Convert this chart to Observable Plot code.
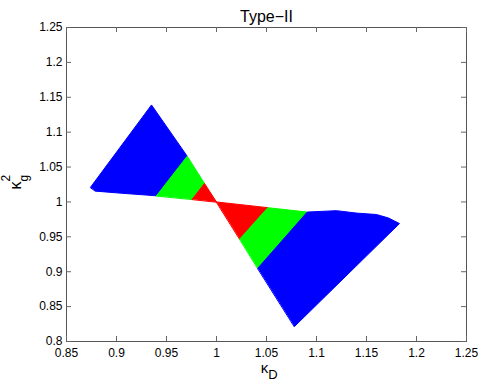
<!DOCTYPE html>
<html><head><meta charset="utf-8">
<script src="https://cdn.jsdelivr.net/npm/d3@7"></script>
<script src="https://cdn.jsdelivr.net/npm/@observablehq/plot@0.6"></script>
<style>html,body{margin:0;padding:0;background:#fff}#chart svg{display:block}</style>
</head><body><div id="chart"></div>
<script>
// tick values and labels
const xTicks = [0.85, 0.9, 0.95, 1, 1.05, 1.1, 1.15, 1.2, 1.25];
const xTickLabels = ["0.85", "0.9", "0.95", "1", "1.05", "1.1", "1.15", "1.2", "1.25"];
const yTicks = [0.8, 0.85, 0.9, 0.95, 1, 1.05, 1.1, 1.15, 1.2, 1.25];
const yTickLabels = ["0.8", "0.85", "0.9", "0.95", "1", "1.05", "1.1", "1.15", "1.2", "1.25"];

// region outlines (kappa_D, kappa_g^2)
const leftBlue = [[0.874, 1.021], [0.935, 1.139], [0.9707, 1.0656], [0.94, 1.0088], [0.905, 1.0125], [0.879, 1.0155]];
const leftGreen = [[0.94, 1.0088], [0.9707, 1.0656], [0.988, 1.0265], [0.9757, 1.0038]];
const leftRed = [[0.9757, 1.0038], [0.988, 1.0265], [1.0, 1.0]];
const rightRed = [[1.0, 1.0], [1.0513, 0.9918], [1.0233, 0.9468]];
const rightGreen = [[1.0233, 0.9468], [1.0513, 0.9918], [1.0907, 0.9855], [1.0413, 0.905]];
const rightBlue = [[1.0413, 0.905], [1.0907, 0.9855], [1.12, 0.9875], [1.14, 0.984], [1.16, 0.982], [1.172, 0.977], [1.183, 0.969], [1.078, 0.8215]];

const regionColors = ["#0000ff", "#00ff00", "#ff0000", "#ff0000", "#00ff00", "#0000ff"];
const regions = [leftBlue, leftGreen, leftRed, rightRed, rightGreen, rightBlue];

const W = 485, H = 385, mL = 66, mR = 19, mT = 27, mB = 44;
const innerW = W - mL - mR, innerH = H - mT - mB;
const font = "'Liberation Sans', Arial, Helvetica, sans-serif";

const polyMarks = regions.map((pts, i) => Plot.line(
  pts.map(([x, y]) => ({x, y})),
  {x: "x", y: "y", curve: "linear-closed", fill: regionColors[i], stroke: regionColors[i], strokeWidth: 1}
));

const tickStroke = "#666";
const chart = Plot.plot({
  width: W, height: H,
  marginLeft: mL, marginRight: mR, marginTop: mT, marginBottom: mB,
  style: {fontFamily: font, background: "white", color: "black"},
  x: {domain: [0.85, 1.25]},
  y: {domain: [0.8, 1.25]},
  marks: [
    ...polyMarks,
    Plot.frame({stroke: "#555"}),
    Plot.tickX(xTicks, {x: d => d, insetTop: innerH - 5, stroke: tickStroke}),
    Plot.tickX(xTicks, {x: d => d, insetBottom: innerH - 5, stroke: tickStroke}),
    Plot.tickY(yTicks, {y: d => d, insetRight: innerW - 5, stroke: tickStroke}),
    Plot.tickY(yTicks, {y: d => d, insetLeft: innerW - 5, stroke: tickStroke}),
    Plot.axisX({ticks: xTicks, tickFormat: d => xTickLabels[xTicks.indexOf(d)], tickSize: 0, tickPadding: 7, fontSize: 12, label: null}),
    Plot.axisY({ticks: yTicks, tickFormat: d => yTickLabels[yTicks.indexOf(d)], tickSize: 0, tickPadding: 4, fontSize: 12, label: null}),
    Plot.text(["Type\u2212II"], {frameAnchor: "top", dy: -16.5, fontSize: 16}),
    Plot.text(["\u03ba"], {frameAnchor: "bottom", dx: -2, dy: 31.5, fontSize: 15}),
    Plot.text(["D"], {frameAnchor: "bottom", dx: 6.5, dy: 37, fontSize: 13}),
    Plot.text(["\u03ba"], {frameAnchor: "left", dx: -51, dy: 5, rotate: -90, fontSize: 16}),
    Plot.text(["g"], {frameAnchor: "left", dx: -42, dy: -3, rotate: -90, fontSize: 12}),
    Plot.text(["2"], {frameAnchor: "left", dx: -60.5, dy: -3, rotate: -90, fontSize: 12})
  ]
});
document.getElementById("chart").appendChild(chart);
</script>
</body></html>
